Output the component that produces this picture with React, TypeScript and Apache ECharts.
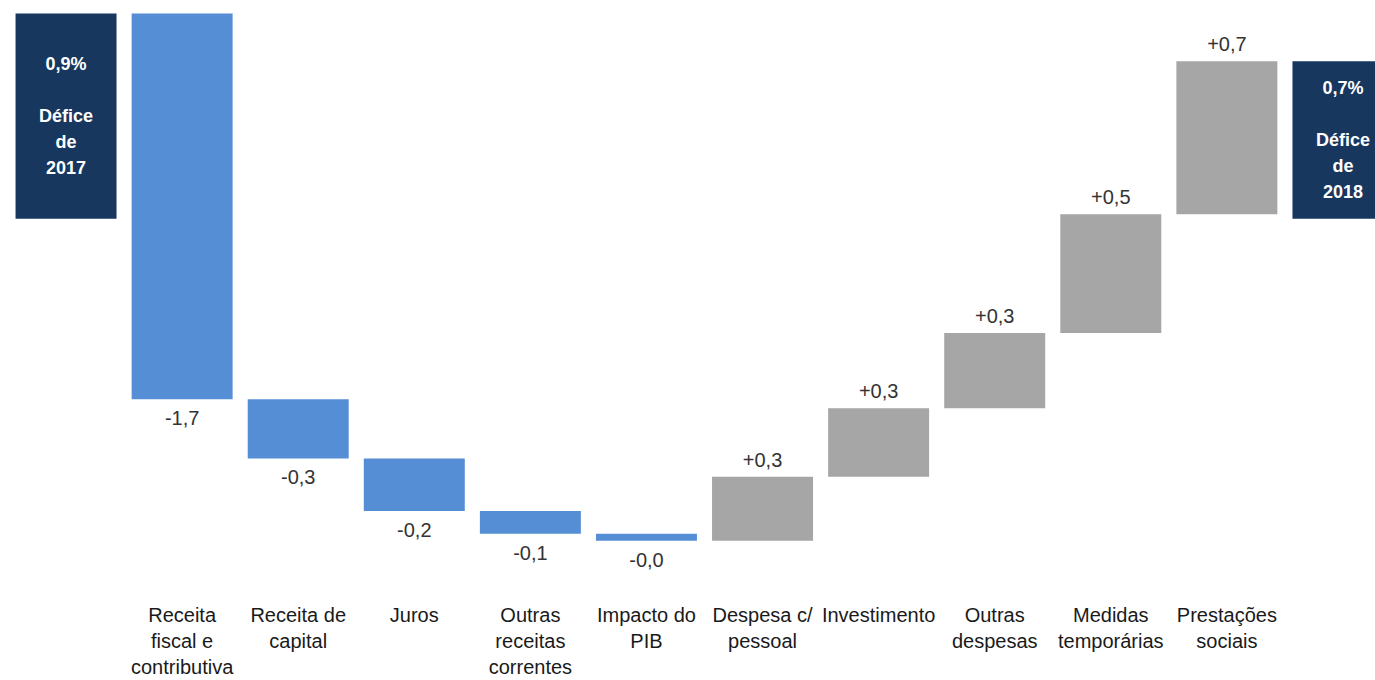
import React, { useEffect, useRef } from "react";
import * as echarts from "echarts";

// ---- data ----
const categories: string[] = [
  "",
  "Receita\nfiscal e\ncontributiva",
  "Receita de\ncapital",
  "Juros",
  "Outras\nreceitas\ncorrentes",
  "Impacto do\nPIB",
  "Despesa c/\npessoal",
  "Investimento",
  "Outras\ndespesas",
  "Medidas\ntemporárias",
  "Prestações\nsociais",
  "",
];
const boxYears: string[] = ["2017", "2018"];
const startDeficit = 0.9;
const deltas: number[] = [-1.69, -0.26, -0.23, -0.1, -0.03, 0.28, 0.3, 0.33, 0.52, 0.67];

const NAVY = "#17375E";
const BLUE = "#558ED5";
const GRAY = "#A6A6A6";
const FONT = "Liberation Sans, Arial, sans-serif";

const fmtDelta = (v: number) => (v >= 0 ? "+" : "-") + Math.abs(v).toFixed(1).replace(".", ",");
const fmtLevel = (v: number) => v.toFixed(1).replace(".", ",") + "%";

type Bar = { idx: number; from: number; to: number; kind: "box" | "neg" | "pos"; value: number; year?: string };

function buildBars(): Bar[] {
  const bars: Bar[] = [];
  bars.push({ idx: 0, from: 0, to: startDeficit, kind: "box", value: startDeficit, year: boxYears[0] });
  let level = startDeficit;
  deltas.forEach((d, i) => {
    const next = level + d;
    bars.push({ idx: i + 1, from: level, to: next, kind: d < 0 ? "neg" : "pos", value: d });
    level = next;
  });
  bars.push({ idx: deltas.length + 1, from: 0, to: level, kind: "box", value: level, year: boxYears[1] });
  return bars;
}

export default function App() {
  const ref = useRef<HTMLDivElement>(null);
  useEffect(() => {
    if (!ref.current) return;
    const chart = echarts.init(ref.current, undefined, { renderer: "svg" });
    const bars = buildBars();
    const option: any = {
      animation: false,
      grid: { left: 8, right: 0, top: 2, bottom: 94 },
      xAxis: {
        type: "category",
        data: categories,
        axisLine: { show: false },
        axisTick: { show: false },
        splitLine: { show: false },
        axisLabel: {
          interval: 0,
          fontFamily: FONT,
          fontSize: 20,
          lineHeight: 26,
          color: "#1a1a1a",
          margin: 18,
        },
      },
      yAxis: { type: "value", min: -1.6, max: 0.95, show: false },
      series: [
        {
          type: "custom",
          data: bars.map((b) => [b.idx, b.from, b.to]),
          encode: { x: 0, y: [1, 2] },
          renderItem: (params: any, api: any) => {
            const b = bars[params.dataIndex];
            const hi = api.coord([b.idx, Math.max(b.from, b.to)]);
            const lo = api.coord([b.idx, Math.min(b.from, b.to)]);
            const w = api.size([1, 0])[0] * 0.87;
            const cx = hi[0];
            const fill = b.kind === "box" ? NAVY : b.kind === "neg" ? BLUE : GRAY;
            const children: any[] = [
              {
                type: "rect",
                shape: { x: cx - w / 2, y: hi[1], width: w, height: Math.max(lo[1] - hi[1], 1) },
                style: { fill },
              },
            ];
            if (b.kind === "box") {
              children.push({
                type: "text",
                x: cx,
                y: (hi[1] + lo[1]) / 2,
                style: {
                  text: `${fmtLevel(b.value)}\n\nDéfice\nde\n${b.year}`,
                  fill: "#ffffff",
                  fontFamily: FONT,
                  fontSize: 18,
                  fontWeight: "bold",
                  lineHeight: 26,
                  align: "center",
                  verticalAlign: "middle",
                },
              });
            } else {
              children.push({
                type: "text",
                x: cx,
                y: b.kind === "neg" ? lo[1] + 19 : hi[1] - 17,
                style: {
                  text: fmtDelta(b.value),
                  fill: "#333333",
                  fontFamily: FONT,
                  fontSize: 20,
                  align: "center",
                  verticalAlign: "middle",
                },
              });
            }
            return { type: "group", children };
          },
        },
      ],
    };
    chart.setOption(option);
    return () => chart.dispose();
  }, []);
  return (
    <div
      style={{
        position: "fixed",
        left: 0,
        top: 0,
        width: 1375,
        height: 680,
        overflow: "hidden",
        background: "#ffffff",
      }}
    >
      <div ref={ref} style={{ width: 1401, height: 680 }} />
    </div>
  );
}
